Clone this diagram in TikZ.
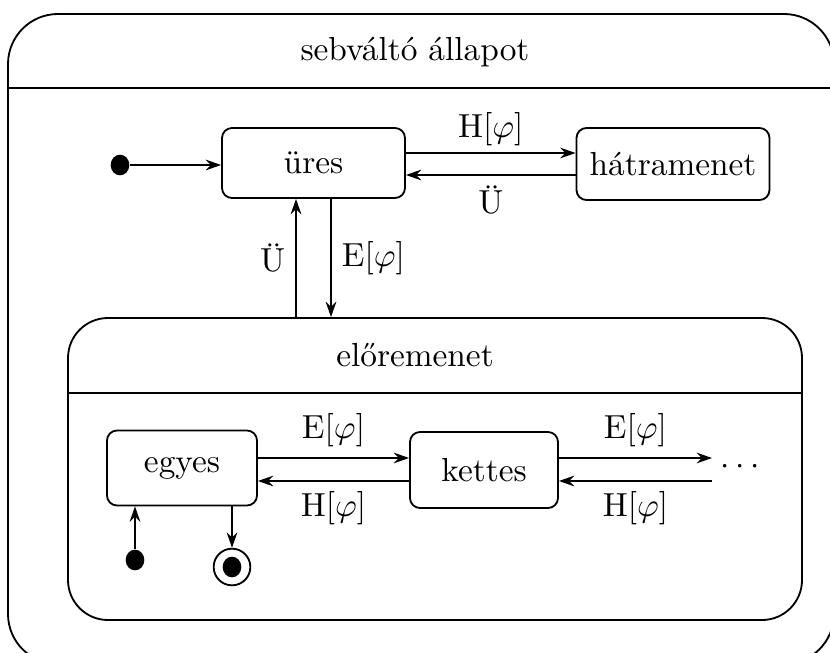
\documentclass[tikz,border=0pt]{standalone}
\usetikzlibrary{arrows.meta,shapes.geometric}
\begin{document}
\begin{tikzpicture}[x=0.3pt,y=-0.3pt,
  line width=0.55pt,
  tip/.style={-{Stealth[length=4.6pt,width=3.2pt,inset=1.5pt]}},
  simple/.style={draw,rounded corners=3pt,inner sep=0pt},
  composite/.style={draw,inner sep=0pt},
  lbl/.style={inner sep=1pt},
  initdot/.style={fill,ellipse,inner sep=0pt,minimum width=5.6pt,minimum height=6.2pt},
  finalring/.style={draw,circle,inner sep=0pt,minimum size=11pt},
  finaldot/.style={fill,ellipse,inner sep=0pt,minimum width=5.6pt,minimum height=6.2pt}]
\useasboundingbox (0,0) rectangle (830,652);
\clip (0,0) rectangle (830,652);

% gearbox state (outer composite)
\node[composite,rounded corners=15pt,minimum width=247.8pt,minimum height=195pt]
  (gear) at (421,339) {};
\node (gearname) at (415,52) {sebváltó állapot};
\draw (gear.west |- 0,88) -- (gear.east |- 0,88);

% top level states
\node[simple,minimum width=54.9pt,minimum height=21pt] (ures) at (313.5,163) {üres};
\node[simple,minimum width=57.9pt,minimum height=21.6pt] (hatra) at (673,164) {hátramenet};
\node[initdot] (init1) at (120,165) {};

% forward-gear composite state
\node[composite,rounded corners=12pt,minimum width=220.2pt,minimum height=90.6pt]
  (elore) at (435,469) {};
\node (elorename) at (415,355) {előremenet};
\draw (elore.west |- 0,393) -- (elore.east |- 0,393);

\node[simple,minimum width=45pt,minimum height=22.5pt] (egyes) at (182,468) {egyes};
\node[simple,minimum width=44.4pt,minimum height=22.8pt] (kettes) at (484,470) {kettes};
\node (more) at (740,467) {$\cdots$};
\node[initdot] (init2) at (135,560) {};
\node[finalring] (fin) at (232,567) {};
\node[finaldot] at (fin) {};

% helper coordinates for parallel connectors
\coordinate (yA) at (0,153);
\coordinate (yB) at (0,175);
\coordinate (yC) at (0,458);
\coordinate (yD) at (0,481);
\coordinate (xU) at (296,0);
\coordinate (xE) at (331,0);
\coordinate (xI) at (135,0);
\coordinate (xF) at (232,0);
\coordinate (endR) at (712,0);

% transitions at the top level
\draw[tip] (init1) -- (ures.west |- init1);
\draw[tip] (ures.east |- yA) -- node[lbl,above=1pt] {H[$\varphi$]} (hatra.west |- yA);
\draw[tip] (hatra.west |- yB) -- node[lbl,below=2pt] {Ü} (ures.east |- yB);
\draw[tip] (elore.north -| xU) -- node[lbl,left=2pt] {Ü} (ures.south -| xU);
\draw[tip] (ures.south -| xE) -- node[lbl,right=2pt] {E[$\varphi$]} (elore.north -| xE);

% transitions inside the forward-gear state
\draw[tip] (egyes.east |- yC) -- node[lbl,above=2pt] {E[$\varphi$]} (kettes.west |- yC);
\draw[tip] (kettes.west |- yD) -- node[lbl,below=2pt] {H[$\varphi$]} (egyes.east |- yD);
\draw[tip] (kettes.east |- yC) -- node[lbl,above=2pt] {E[$\varphi$]} (endR |- yC);
\draw[tip] (endR |- yD) -- node[lbl,below=2pt] {H[$\varphi$]} (kettes.east |- yD);
\draw[tip] (init2) -- (egyes.south -| xI);
\draw[tip] (egyes.south -| xF) -- (fin.north);
\end{tikzpicture}
\end{document}
